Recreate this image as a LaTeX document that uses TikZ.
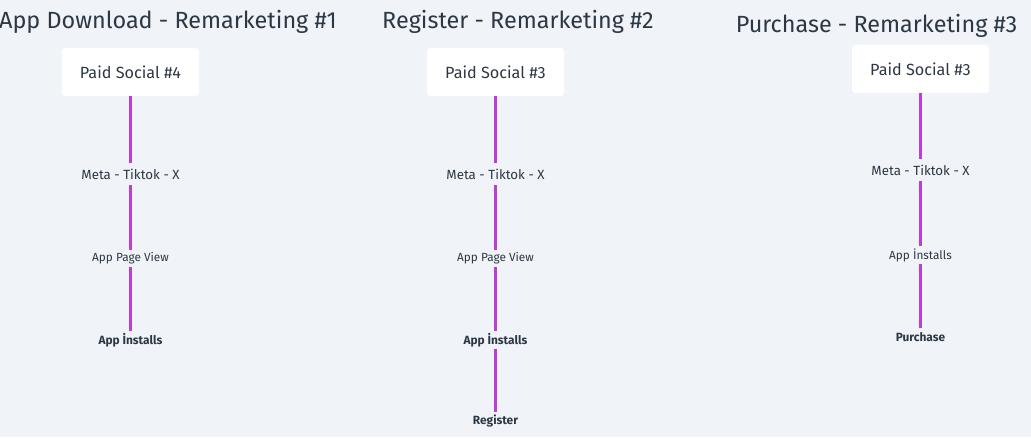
\documentclass[tikz,border=0pt]{standalone}
\usepackage{fontspec}
\setmainfont{Fira Sans}
\definecolor{bgcol}{HTML}{F0F3F7}
\definecolor{inkcol}{HTML}{2D3845}
\definecolor{linkcol}{HTML}{BB3FD6}
\begin{document}
\begin{tikzpicture}[x=1pt,y=-1pt]
    \tikzstyle{every node}=[text=inkcol,inner sep=0pt]
    \tikzstyle{heading}=[font=\fontsize{23.4}{26}\selectfont]
    \tikzstyle{channel}=[fill=white,rounded corners=3pt,minimum width=137pt,
    minimum height=48pt,font=\fontsize{16.2}{18}\selectfont]
    \tikzstyle{tier}=[minimum height=22pt,font=\fontsize{13.3}{15}\selectfont]
    \tikzstyle{event}=[minimum height=17pt,font=\fontsize{11.8}{13}\selectfont]
    \tikzstyle{goal}=[event,font=\fontsize{11.9}{13}\selectfont\bfseries]
    \tikzstyle{link}=[draw=linkcol,line width=2.6pt]
    \fill[bgcol] (0,0) rectangle (1031,437);
    \useasboundingbox (0,0) rectangle (1031,437);

    % App Download
    \node[heading] (title1) at (168,21.5) {App Download - Remarketing \#1};
    \node[channel] (ps1) at (130.5,72) {Paid Social \#4};
    \node[tier] (meta1) at (130.5,174) {Meta - Tiktok - X};
    \node[event] (view1) at (130.5,258.5) {App Page View};
    \node[goal] (inst1) at (130.5,340) {App İnstalls};
    \draw[link] (ps1.south) -- (meta1.north);
    \draw[link] (meta1.south) -- (view1.north);
    \draw[link] (view1.south) -- (inst1.north);

    % Register
    \node[heading] (title2) at (518,21.5) {Register - Remarketing \#2};
    \node[channel] (ps2) at (495.5,72) {Paid Social \#3};
    \node[tier] (meta2) at (495.5,174) {Meta - Tiktok - X};
    \node[event] (view2) at (495.5,258.5) {App Page View};
    \node[goal] (inst2) at (495.5,340) {App İnstalls};
    \node[goal] (reg2) at (495.5,421) {Register};
    \draw[link] (ps2.south) -- (meta2.north);
    \draw[link] (meta2.south) -- (view2.north);
    \draw[link] (view2.south) -- (inst2.north);
    \draw[link] (inst2.south) -- (reg2.north);

    % Purchase
    \node[heading] (title3) at (876.5,25.5) {Purchase - Remarketing \#3};
    \node[channel] (ps3) at (920.5,69) {Paid Social \#3};
    \node[tier] (meta3) at (920.5,170) {Meta - Tiktok - X};
    \node[event] (inst3) at (920.5,255) {App İnstalls};
    \node[goal] (buy3) at (920.5,337) {Purchase};
    \draw[link] (ps3.south) -- (meta3.north);
    \draw[link] (meta3.south) -- (inst3.north);
    \draw[link] (inst3.south) -- (buy3.north);

\end{tikzpicture}
\end{document}
